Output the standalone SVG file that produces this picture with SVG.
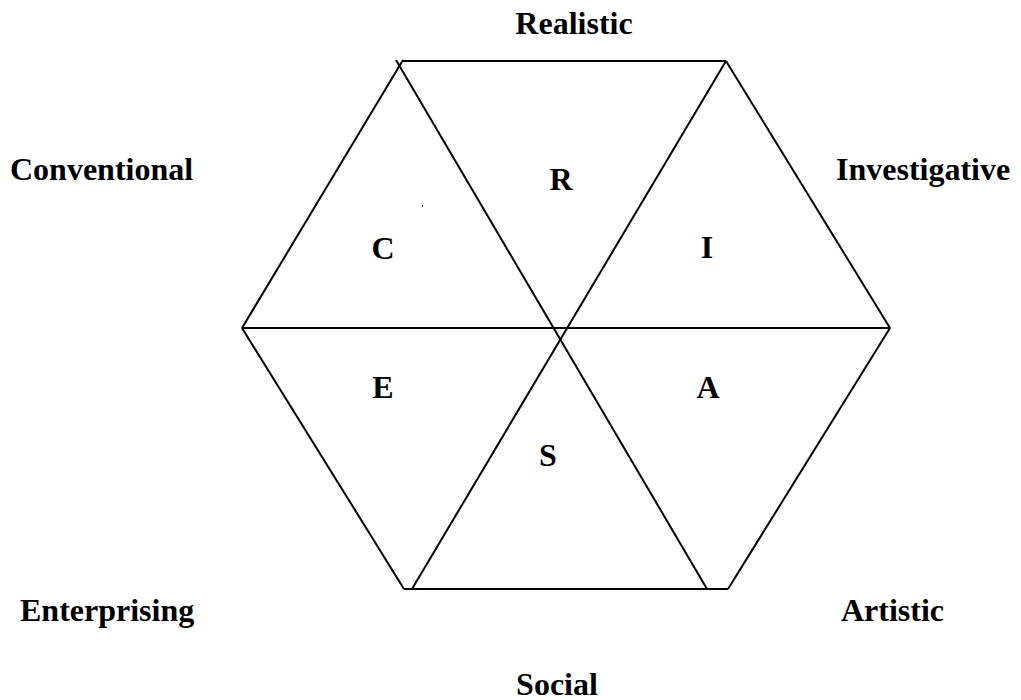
<svg xmlns="http://www.w3.org/2000/svg" width="1021" height="700" viewBox="0 0 1021 700">
<style>
.ln{stroke:#000;stroke-width:2;fill:none;stroke-linecap:butt}
.t{font-family:"Liberation Serif","Times New Roman",serif;font-weight:bold;font-size:32px;fill:#000}
.m{text-anchor:middle}
</style>
<rect width="1021" height="700" fill="#fff"/>
<g id="connectors">
<line class="ln" x1="403" y1="61" x2="726" y2="61"/>
<line class="ln" x1="726" y1="61" x2="890" y2="328"/>
<line class="ln" x1="890" y1="328" x2="728" y2="589"/>
<line class="ln" x1="728" y1="589" x2="404" y2="589"/>
<line class="ln" x1="404" y1="589" x2="242" y2="328"/>
<line class="ln" x1="242" y1="328" x2="403" y2="60"/>
<line class="ln" x1="242" y1="328" x2="890" y2="328"/>
<line class="ln" x1="396" y1="60" x2="707" y2="589"/>
<line class="ln" x1="726" y1="61" x2="412" y2="589"/>
</g>
<rect x="422" y="205" width="1" height="2" fill="#555"/>
<g id="realistic"><text class="t m" x="574" y="34">Realistic</text><text class="t m" x="561" y="190">R</text></g>
<g id="investigative"><text class="t" x="836" y="180">Investigative</text><text class="t m" x="707" y="258">I</text></g>
<g id="artistic"><text class="t" x="841" y="621">Artistic</text><text class="t m" x="708" y="398">A</text></g>
<g id="social"><text class="t m" x="557" y="695">Social</text><text class="t m" x="548" y="466">S</text></g>
<g id="enterprising"><text class="t" x="20" y="621">Enterprising</text><text class="t m" x="383" y="398">E</text></g>
<g id="conventional"><text class="t" x="10" y="180">Conventional</text><text class="t m" x="383" y="259">C</text></g>
</svg>
